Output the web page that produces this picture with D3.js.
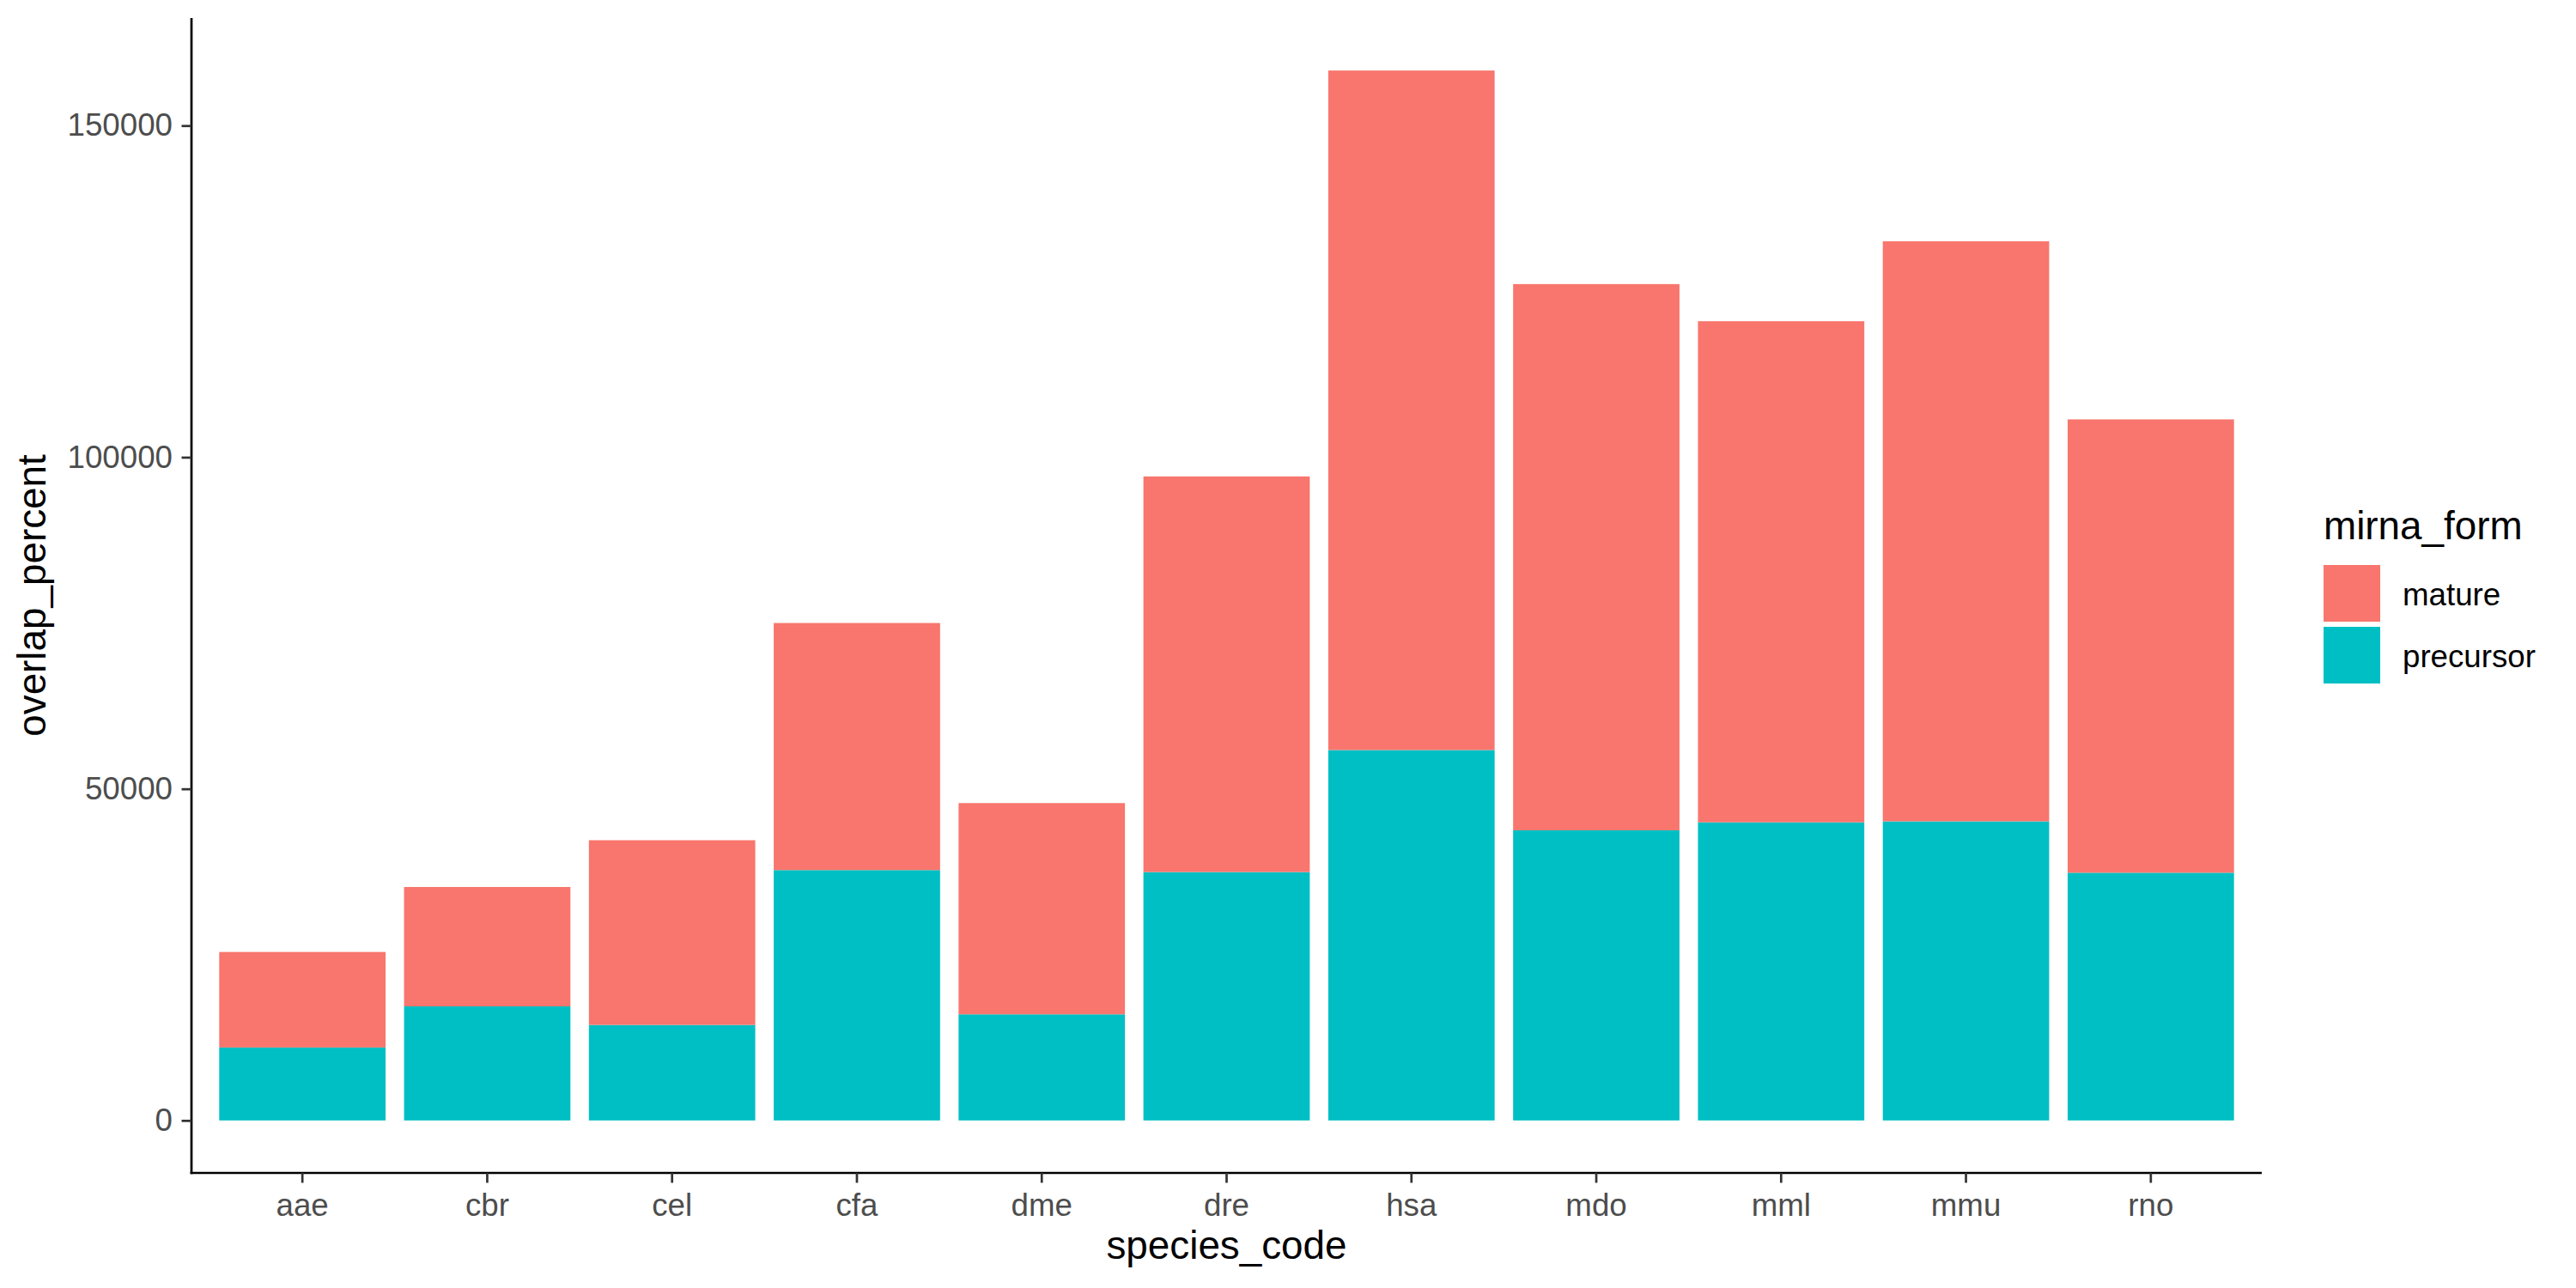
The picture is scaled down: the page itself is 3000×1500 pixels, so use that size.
<!DOCTYPE html>
<html>
<head>
<meta charset="utf-8">
<script src="https://cdn.jsdelivr.net/npm/d3@7"></script>
<style>
  html, body { margin: 0; padding: 0; background: #ffffff; }
  svg { display: block; font-family: "Liberation Sans", Arial, sans-serif; }
</style>
</head>
<body>
<div id="chart"></div>
<script>
  // values
  const species = ['aae', 'cbr', 'cel', 'cfa', 'dme', 'dre', 'hsa', 'mdo', 'mml', 'mmu', 'rno'];
  const precursor = [11000, 17200, 14400, 37750, 16000, 37450, 55850, 43750, 44950, 45100, 37350];
  const mature = [14400, 18000, 27850, 37250, 31850, 59650, 102450, 82350, 75550, 87450, 68350];
  const forms = ['mature', 'precursor'];
  const formColors = ['#F8766D', '#00BFC4'];
  const yTicks = [0, 50000, 100000, 150000];

  const width = 3000;
  const height = 1500;
  const panel = { left: 223, right: 2634, top: 21, bottom: 1366 };

  const rows = species.map((code, i) => ({
    species: code,
    precursor: precursor[i],
    mature: mature[i],
  }));

  // precursor sits at the bottom, mature stacked on top
  const stacked = d3.stack().keys(['precursor', 'mature'])(rows);

  const maxTotal = d3.max(rows, (d) => d.precursor + d.mature);

  const xScale = d3.scaleBand()
    .domain(species)
    .range([panel.left, panel.right])
    .paddingInner(0.1)
    .paddingOuter(0.15);

  const yScale = d3.scaleLinear()
    .domain([-maxTotal * 0.05, maxTotal * 1.05])
    .range([panel.bottom, panel.top]);

  const color = d3.scaleOrdinal().domain(forms).range(formColors);

  const svg = d3.select('#chart')
    .append('svg')
    .attr('width', width)
    .attr('height', height);

  svg.append('rect')
    .attr('width', width)
    .attr('height', height)
    .attr('fill', '#ffffff');

  svg.append('g')
    .selectAll('g')
    .data(stacked)
    .join('g')
    .attr('fill', (s) => color(s.key))
    .selectAll('rect')
    .data((s) => s)
    .join('rect')
    .attr('x', (d) => xScale(d.data.species))
    .attr('width', xScale.bandwidth())
    .attr('y', (d) => yScale(d[1]))
    .attr('height', (d) => yScale(d[0]) - yScale(d[1]));

  const tickFont = 36.7;
  const titleFont = 45.8;

  const yAxis = d3.axisLeft(yScale)
    .tickValues(yTicks)
    .tickFormat(d3.format('d'))
    .tickSize(11.5)
    .tickSizeOuter(0)
    .tickPadding(10.5);

  const yAxisG = svg.append('g')
    .attr('transform', `translate(${panel.left},0)`)
    .call(yAxis);

  const xAxis = d3.axisBottom(xScale)
    .tickSize(11.5)
    .tickSizeOuter(0)
    .tickPadding(12.5);

  const xAxisG = svg.append('g')
    .attr('transform', `translate(0,${panel.bottom})`)
    .call(xAxis);

  [yAxisG, xAxisG].forEach((g) => {
    g.select('.domain')
      .attr('stroke', '#000000')
      .attr('stroke-width', 2.7);
    g.selectAll('.tick line')
      .attr('stroke', '#333333')
      .attr('stroke-width', 2.7);
    g.selectAll('.tick text')
      .attr('fill', '#4D4D4D')
      .style('font-size', `${tickFont}px`)
      .style('font-family', '"Liberation Sans", Arial, sans-serif');
  });

  // make both axis lines meet at the corner
  yAxisG.select('.domain').attr('d', `M0,${panel.bottom + 1.35}V${panel.top}`);
  xAxisG.select('.domain').attr('d', `M${panel.left - 1.35},0H${panel.right}`);

  svg.append('text')
    .attr('x', (panel.left + panel.right) / 2)
    .attr('y', 1466)
    .attr('text-anchor', 'middle')
    .attr('fill', '#000000')
    .style('font-size', `${titleFont}px`)
    .text('species_code');

  svg.append('text')
    .attr('transform', `translate(53,${(panel.top + panel.bottom) / 2}) rotate(-90)`)
    .attr('text-anchor', 'middle')
    .attr('fill', '#000000')
    .style('font-size', `${titleFont}px`)
    .text('overlap_percent');

  // legend
  const legend = svg.append('g')
    .attr('transform', 'translate(2706,0)');

  legend.append('text')
    .attr('x', 0)
    .attr('y', 628)
    .attr('fill', '#000000')
    .style('font-size', `${titleFont}px`)
    .text('mirna_form');

  const keyItems = legend.selectAll('g.key')
    .data(forms)
    .join('g')
    .attr('class', 'key')
    .attr('transform', (d, i) => `translate(0,${658 + i * 72})`);

  keyItems.append('rect')
    .attr('width', 66)
    .attr('height', 66)
    .attr('fill', (d) => color(d));

  keyItems.append('text')
    .attr('x', 92)
    .attr('y', 46.5)
    .attr('fill', '#000000')
    .style('font-size', `${tickFont}px`)
    .text((d) => d);
</script>
</body>
</html>
